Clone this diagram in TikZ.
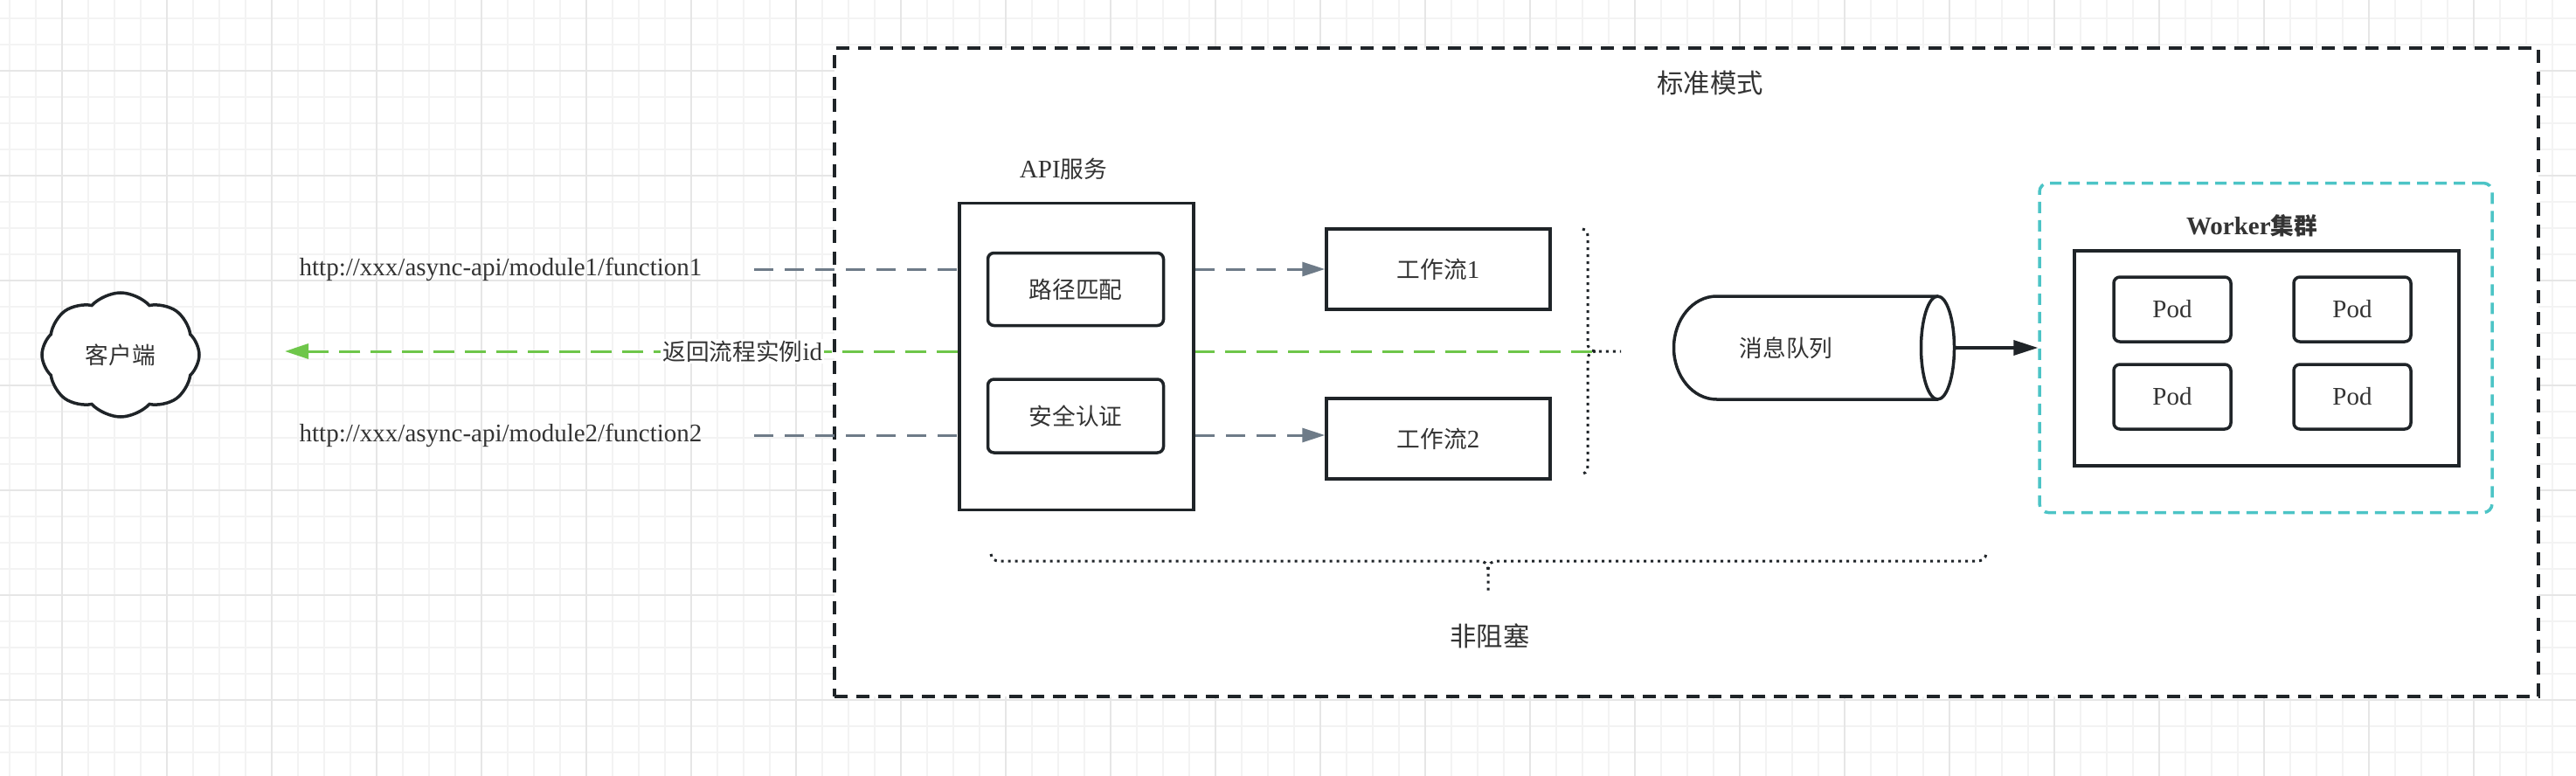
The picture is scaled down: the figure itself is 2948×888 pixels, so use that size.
\documentclass[tikz,border=0pt]{standalone}
\usepackage{fontspec}
\setmainfont{Liberation Serif}
\newfontfamily\cjk{Noto Sans CJK SC}[Scale=0.92]
\usetikzlibrary{arrows.meta,positioning,shapes.symbols}
\definecolor{ink}{HTML}{1F2428}
\definecolor{txtgray}{HTML}{333333}
\definecolor{slate}{HTML}{6E7B88}
\definecolor{okgreen}{HTML}{6EC64A}
\definecolor{clustercyan}{HTML}{4CC4C6}
\definecolor{gridminor}{HTML}{F3F3F3}
\definecolor{gridmajor}{HTML}{E6E6E6}
\newcommand{\zh}[1]{{\cjk #1}}
\tikzset{box/.style={draw=ink, line width=3.5pt, fill=white, inner sep=0pt}}
\tikzset{rbox/.style={box, rounded corners=7pt}}
\tikzset{qline/.style={draw=ink, line width=3.5pt}}
\tikzset{txt/.style={text=txtgray, inner sep=0pt}}
\tikzset{urltxt/.style={txt, minimum width=580pt}}
\tikzset{outer/.style={draw=ink, line width=4pt, fill=white, dash pattern=on 15pt off 10pt, minimum width=1950pt, minimum height=742pt}}
\tikzset{cluster/.style={draw=clustercyan, line width=3.5pt, dash pattern=on 13pt off 8pt, rounded corners=10pt, minimum width=518pt, minimum height=377pt}}
\tikzset{qbody/.style={inner sep=0pt, outer sep=0pt, minimum width=321pt, minimum height=118pt}}
\tikzset{gline/.style={draw=slate, line width=3pt, dash pattern=on 22pt off 13pt}}
\tikzset{garr/.style={gline, -{Triangle[length=26pt, width=16pt]}}}
\tikzset{greenline/.style={draw=okgreen, line width=3pt, dash pattern=on 24pt off 12pt}}
\tikzset{greenarr/.style={greenline, -{Triangle[length=27pt, width=17pt]}}}
\tikzset{darr/.style={draw=ink, line width=3.5pt, -{Triangle[length=28pt, width=17pt]}}}
\tikzset{dotbrace/.style={draw=ink, line width=3pt, dash pattern=on 3pt off 5pt}}
\tikzset{lbl/.style={txt, fill=white, inner sep=2pt}}

\begin{document}
\begin{tikzpicture}[x=1pt, y=-1pt, font=\fontsize{29}{34}\selectfont]
	\useasboundingbox (0,0) rectangle (2948,888);
	\fill[white] (0,0) rectangle (2948,888);
	\foreach \gx in {11,41,...,2948} \draw[gridminor, line width=1.5pt] (\gx,0) -- (\gx,888);
	\foreach \gy in {21,51,...,888} \draw[gridminor, line width=1.5pt] (0,\gy) -- (2948,\gy);
	\foreach \gx in {71,191,...,2948} \draw[gridmajor, line width=2pt] (\gx,0) -- (\gx,888);
	\foreach \gy in {81,201,...,888} \draw[gridmajor, line width=2pt] (0,\gy) -- (2948,\gy);

	\node[outer] (std) at (1930,426) {};
	\node[txt, font=\fontsize{33}{38}\selectfont] (stdtitle) at (1957,95) {\zh{标准模式}};

	\node[cloud, cloud puffs=8, cloud puff arc=95, aspect=1.27, draw=ink, line width=3.5pt, fill=white, inner sep=0pt, minimum width=180pt, minimum height=142pt, text=txtgray] (client) at (138,406) {\zh{客户端}};
	\node[urltxt] (url1) at (573,308) {http://xxx/async-api/module1/function1};
	\node[urltxt] (url2) at (573,498) {http://xxx/async-api/module2/function2};

	\node[txt] (apititle) at (1217,193) {API\zh{服务}};
	\node[box, minimum width=268pt, minimum height=351pt] (api) at (1232,408) {};
	\node[rbox, minimum width=201pt, minimum height=83pt, text=txtgray] (match) at (1231,331) {\zh{路径匹配}};
	\node[rbox, minimum width=201pt, minimum height=84pt, text=txtgray] (auth) at (1231,476) {\zh{安全认证}};

	\node[box, minimum width=256pt, minimum height=92pt, text=txtgray] (wf1) at (1646,308) {\zh{工作流}1};
	\node[box, minimum width=256pt, minimum height=92pt, text=txtgray] (wf2) at (1646,502) {\zh{工作流}2};

	\draw[gline] (url1.east) -- (url1.east -| api.west);
	\draw[garr] (url1.east -| api.east) -- (url1.east -| wf1.west);
	\draw[gline] (url2.east) -- (url2.east -| api.west);
	\draw[garr] (url2.east -| api.east) -- (url2.east -| wf2.west);

	\draw[dotbrace] (1811,262) .. controls (1816,263) and (1817,266) .. (1817,272) -- (1817,392) .. controls (1817,398) and (1819,401) .. (1826,402) -- (1855,402);
	\draw[dotbrace] (1826,402) .. controls (1819,403) and (1817,406) .. (1817,412) -- (1817,532) .. controls (1817,538) and (1816,541) .. (1811,542);
	\coordinate (rtip) at (1822,402);
	\coordinate (reply) at (326,402);

	\draw[greenline] (rtip) -- (api.east |- rtip);
	\draw[greenarr] (api.west |- rtip) -- (reply) node[lbl, pos=0.32] {\zh{返回流程实例}id};

	\node[qbody, label={[txt, xshift=-32pt]center:\zh{消息队列}}] (mq) at (2076,398) {};
	\draw[qline] ([xshift=-19pt]mq.north east) -- ([xshift=-272pt]mq.north east) arc[start angle=270, end angle=90, x radius=49, y radius=59] -- ([xshift=-19pt]mq.south east);
	\draw[qline] ([xshift=-19pt]mq.east) ellipse[x radius=19, y radius=59];

	\node[cluster] (worker) at (2593,398) {};
	\node[txt, font=\fontsize{29}{34}\selectfont\bfseries] (workertitle) at (2577,258) {Worker\zh{集群}};
	\node[box, minimum width=440pt, minimum height=246pt] (pool) at (2594,410) {};
	\node[rbox, minimum width=134pt, minimum height=74pt, text=txtgray] (pod1) at (2486,354) {Pod};
	\node[rbox, minimum width=134pt, minimum height=74pt, text=txtgray] (pod2) at (2692,354) {Pod};
	\node[rbox, minimum width=134pt, minimum height=74pt, text=txtgray] (pod3) at (2486,454) {Pod};
	\node[rbox, minimum width=134pt, minimum height=74pt, text=txtgray] (pod4) at (2692,454) {Pod};

	\draw[darr] (mq.east) -- (worker.west);

	\draw[dotbrace] (1134,634) .. controls (1135,640) and (1138,642) .. (1144,642) -- (1692,642) .. controls (1699,642) and (1703,645) .. (1703,652) -- (1703,677);
	\draw[dotbrace] (1703,652) .. controls (1703,645) and (1707,642) .. (1714,642) -- (2262,642) .. controls (2268,642) and (2272,640) .. (2273,634);
	\node[txt, font=\fontsize{33}{38}\selectfont] (nonblock) at (1705,728) {\zh{非阻塞}};
\end{tikzpicture}
\end{document}
